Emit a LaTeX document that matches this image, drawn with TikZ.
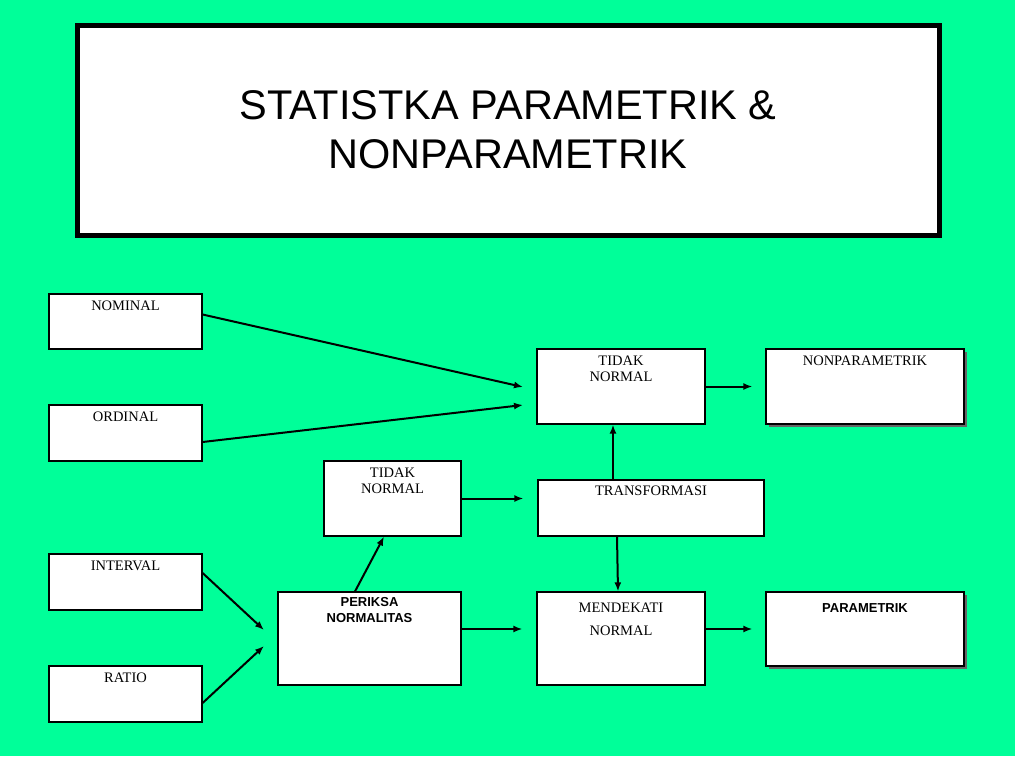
\documentclass[tikz,border=0pt]{standalone}
\usepackage{fontspec}
\setmainfont{Liberation Serif}
\newfontfamily\arialfont{Liberation Sans}
\usetikzlibrary{arrows.meta,shadows}
\definecolor{bggreen}{RGB}{0,255,153}
\tikzset{
  box/.style={draw=black, line width=1.2pt, fill=white, inner sep=0pt},
  shadowbox/.style={box, drop shadow={shadow xshift=2.5pt, shadow yshift=-2.5pt, fill=black!60, opacity=1}},
  boxtext/.style={anchor=north, align=center, font=\fontsize{14.5}{16}\selectfont, inner sep=0pt, label distance=0pt},
  arr/.style={line width=2pt, -{Latex[length=9pt,width=7pt]}}
}
\begin{document}
\begin{tikzpicture}[x=1pt,y=-1pt]
  % latar
  \fill[bggreen] (0,0) rectangle (1015,756);

  % judul
  \node[draw=black, line width=5pt, fill=white, minimum width=862pt, minimum height=210pt, align=center,
        font=\arialfont\fontsize{41.5}{49}\selectfont] (judul) at (508,130)
        {STATISTKA PARAMETRIK \&\\NONPARAMETRIK};

  % skala data
  \node[box, minimum width=153pt, minimum height=55pt,
        label={[boxtext, yshift=-7pt]north:NOMINAL}] (nominal) at (125.5,321.5) {};
  \node[box, minimum width=153pt, minimum height=56pt,
        label={[boxtext, yshift=-7pt]north:ORDINAL}] (ordinal) at (125.5,433) {};
  \node[box, minimum width=153pt, minimum height=56pt,
        label={[boxtext, yshift=-7pt]north:INTERVAL}] (interval) at (125.5,582) {};
  \node[box, minimum width=153pt, minimum height=56pt,
        label={[boxtext, yshift=-7pt]north:RATIO}] (ratio) at (125.5,694) {};

  % kotak tengah
  \node[box, minimum width=168pt, minimum height=75pt,
        label={[boxtext, yshift=-7pt]north:TIDAK\\NORMAL}] (tidakA) at (621,386.5) {};
  \node[box, minimum width=137pt, minimum height=75pt,
        label={[boxtext, yshift=-7pt]north:TIDAK\\NORMAL}] (tidakB) at (392.5,498.5) {};
  \node[box, minimum width=226pt, minimum height=56pt,
        label={[boxtext, yshift=-6pt]north:TRANSFORMASI}] (transf) at (651,508) {};
  \node[box, minimum width=183pt, minimum height=93pt,
        label={[boxtext, yshift=-6pt, font=\arialfont\bfseries\fontsize{13}{16}\selectfont]north:PERIKSA\\NORMALITAS}] (periksa) at (369.5,638.5) {};
  \node[box, minimum width=168pt, minimum height=93pt,
        label={[boxtext, yshift=-11pt, font=\fontsize{14.5}{23}\selectfont]north:MENDEKATI\\NORMAL}] (mendekati) at (621,638.5) {};

  % hasil
  \node[shadowbox, minimum width=198pt, minimum height=75pt,
        label={[boxtext, yshift=-7pt]north:NONPARAMETRIK}] (nonpar) at (865,386.5) {};
  \node[shadowbox, minimum width=198pt, minimum height=74pt,
        label={[boxtext, yshift=-12pt, font=\arialfont\bfseries\fontsize{13}{15}\selectfont]north:PARAMETRIK}] (param) at (865,629) {};

  % ujung panah bebas
  \coordinate (inNom) at (523,387);
  \coordinate (inOrd) at (523,405);
  \coordinate (inInt) at (264,630);
  \coordinate (inRat) at (264,646);

  % panah
  \draw[arr] ([yshift=7pt]nominal.east) -- (inNom);
  \draw[arr] ([yshift=-9pt]ordinal.east) -- (inOrd);
  \draw[arr] ([yshift=9pt]interval.east) -- (inInt);
  \draw[arr] ([yshift=-9pt]ratio.east) -- (inRat);
  \draw[arr, shorten >=13pt] (tidakA.east) -- (tidakA.east -| nonpar.west);
  \draw[arr] ([xshift=-38pt]transf.north) -- ([xshift=-8pt]tidakA.south);
  \draw[arr, shorten >=14pt] (tidakB.east) -- (tidakB.east -| transf.west);
  \draw[arr] ([xshift=-34pt]transf.south) -- ([xshift=-3pt]mendekati.north);
  \draw[arr] ([xshift=-14.5pt]periksa.north) -- ([xshift=-8.5pt]tidakB.south);
  \draw[arr, shorten >=14pt] ([yshift=9.5pt]periksa.east) -- ([yshift=9.5pt]periksa.east -| mendekati.west);
  \draw[arr, shorten >=13pt] (mendekati.east |- param.west) -- (param.west);
\end{tikzpicture}
\end{document}
